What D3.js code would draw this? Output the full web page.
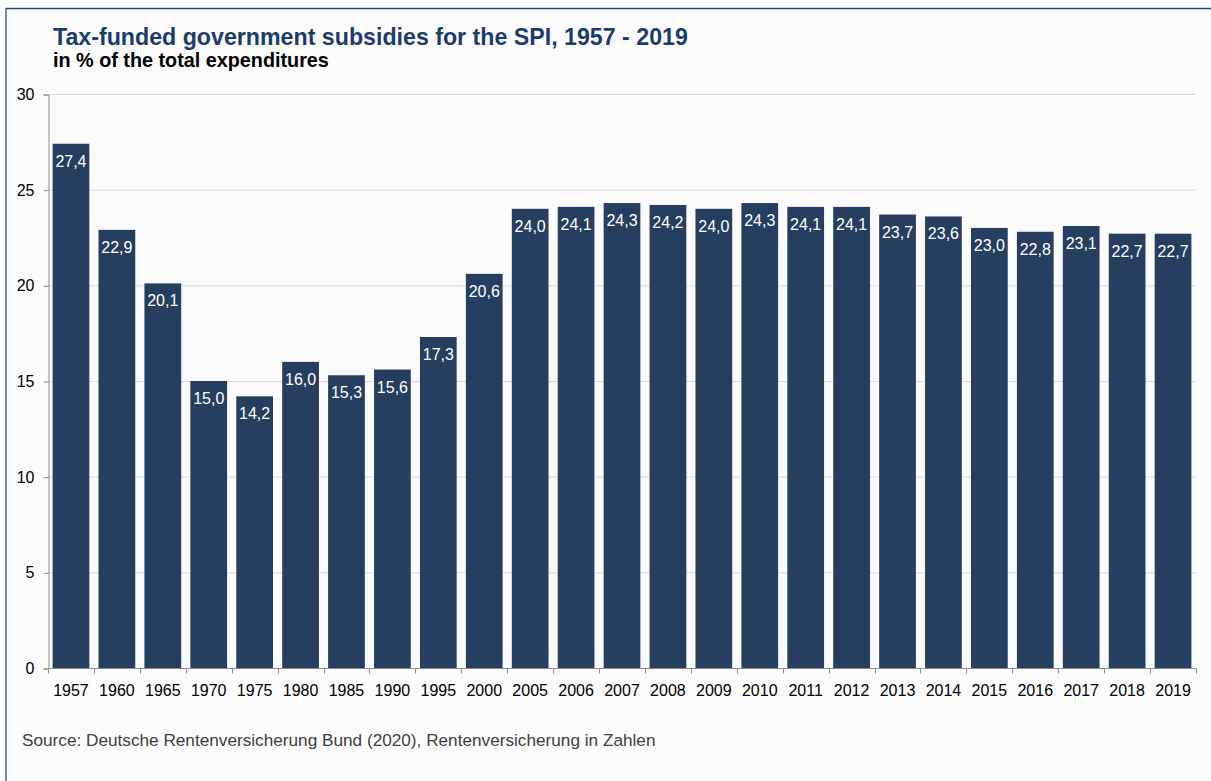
<!DOCTYPE html>
<html>
<head>
<meta charset="utf-8">
<script src="https://cdn.jsdelivr.net/npm/d3@7"></script>
<style>
  html, body { margin: 0; padding: 0; background: #ffffff; }
  svg { display: block; font-family: Arial, "Liberation Sans", sans-serif; }
</style>
</head>
<body>
<svg id="chart" width="1211" height="781"></svg>
<script>
// Federal subsidy share of pension insurance expenditures (%)
const years = ["1957","1960","1965","1970","1975","1980","1985","1990","1995","2000",
  "2005","2006","2007","2008","2009","2010","2011","2012","2013","2014",
  "2015","2016","2017","2018","2019"];
const shares = [27.4, 22.9, 20.1, 15.0, 14.2, 16.0, 15.3, 15.6, 17.3, 20.6,
  24.0, 24.1, 24.3, 24.2, 24.0, 24.3, 24.1, 24.1, 23.7, 23.6,
  23.0, 22.8, 23.1, 22.7, 22.7];
const yTicks = [0, 5, 10, 15, 20, 25, 30];

const titleText = "Tax-funded government subsidies for the SPI, 1957 - 2019";
const subtitleText = "in % of the total expenditures";
const sourceText = "Source: Deutsche Rentenversicherung Bund (2020), Rentenversicherung in Zahlen";

const svg = d3.select("#chart");

// panel background and frame
svg.append("rect").attr("x", 6).attr("y", 8).attr("width", 1205).attr("height", 773)
  .attr("fill", "#fbfbfb");
svg.append("line").attr("x1", 6).attr("x2", 1211).attr("y1", 8.5).attr("y2", 8.5)
  .attr("stroke", "#24406a").attr("stroke-width", 1.5);
svg.append("line").attr("x1", 6).attr("x2", 6).attr("y1", 8).attr("y2", 781)
  .attr("stroke", "#4d6a93").attr("stroke-width", 1.5);

const plot = { left: 48, right: 1196, top: 94, bottom: 668 };

const x = d3.scaleBand().domain(years)
  .range([plot.left, plot.right]).paddingInner(0.2).paddingOuter(0.1);
const y = d3.scaleLinear().domain([0, 30]).range([plot.bottom, plot.top]);

// horizontal gridlines
svg.append("g").selectAll("line").data(yTicks.filter(d => d > 0)).join("line")
  .attr("x1", plot.left).attr("x2", plot.right)
  .attr("y1", d => y(d) + 0.5).attr("y2", d => y(d) + 0.5)
  .attr("stroke", "#d9d9d9").attr("stroke-width", 1);

// y axis
const yAxis = svg.append("g").attr("transform", `translate(${plot.left + 0.5},0.5)`)
  .call(d3.axisLeft(y).tickValues(yTicks).tickSize(5).tickPadding(9));
yAxis.select(".domain").attr("stroke", "#8c8c8c");
yAxis.selectAll(".tick line").attr("stroke", "#8c8c8c");
yAxis.selectAll("text").attr("font-size", 16).attr("fill", "#000")
  .attr("font-family", "Arial, 'Liberation Sans', sans-serif");

// bars
svg.append("g").selectAll("rect").data(shares).join("rect")
  .attr("x", (d, i) => x(years[i]))
  .attr("y", d => y(d))
  .attr("width", x.bandwidth())
  .attr("height", d => y(0) - y(d))
  .attr("fill", "#263f60");

// value labels
svg.append("g").selectAll("text").data(shares).join("text")
  .attr("x", (d, i) => x(years[i]) + x.bandwidth() / 2)
  .attr("y", d => y(d) + 23)
  .attr("text-anchor", "middle")
  .attr("font-size", 16)
  .attr("fill", "#ffffff")
  .text(d => d.toFixed(1).replace(".", ","));

// x axis with ticks at category boundaries
const xAxisG = svg.append("g").attr("transform", `translate(0,${plot.bottom + 0.5})`);
xAxisG.append("line").attr("x1", plot.left).attr("x2", plot.right)
  .attr("stroke", "#8c8c8c");
const step = x.step();
const boundaries = d3.range(years.length + 1).map(i => x(years[0]) - x.paddingOuter() * step + i * step);
xAxisG.selectAll("line.tk").data(boundaries).join("line").attr("class", "tk")
  .attr("x1", d => Math.round(d) + 0.5).attr("x2", d => Math.round(d) + 0.5)
  .attr("y1", 0).attr("y2", 5).attr("stroke", "#8c8c8c");
xAxisG.selectAll("text").data(years).join("text")
  .attr("x", d => x(d) + x.bandwidth() / 2)
  .attr("y", 27)
  .attr("text-anchor", "middle")
  .attr("font-size", 16)
  .attr("fill", "#000")
  .text(d => d);

// titles
svg.append("text").attr("x", 53).attr("y", 45)
  .attr("font-size", 23.2).attr("font-weight", "bold").attr("fill", "#1c3c6c")
  .text(titleText);
svg.append("text").attr("x", 53).attr("y", 67)
  .attr("font-size", 19.8).attr("font-weight", "bold").attr("fill", "#000")
  .text(subtitleText);

// source note
svg.append("text").attr("x", 22).attr("y", 746)
  .attr("font-size", 17.2).attr("fill", "#404040")
  .text(sourceText);
</script>
</body>
</html>
